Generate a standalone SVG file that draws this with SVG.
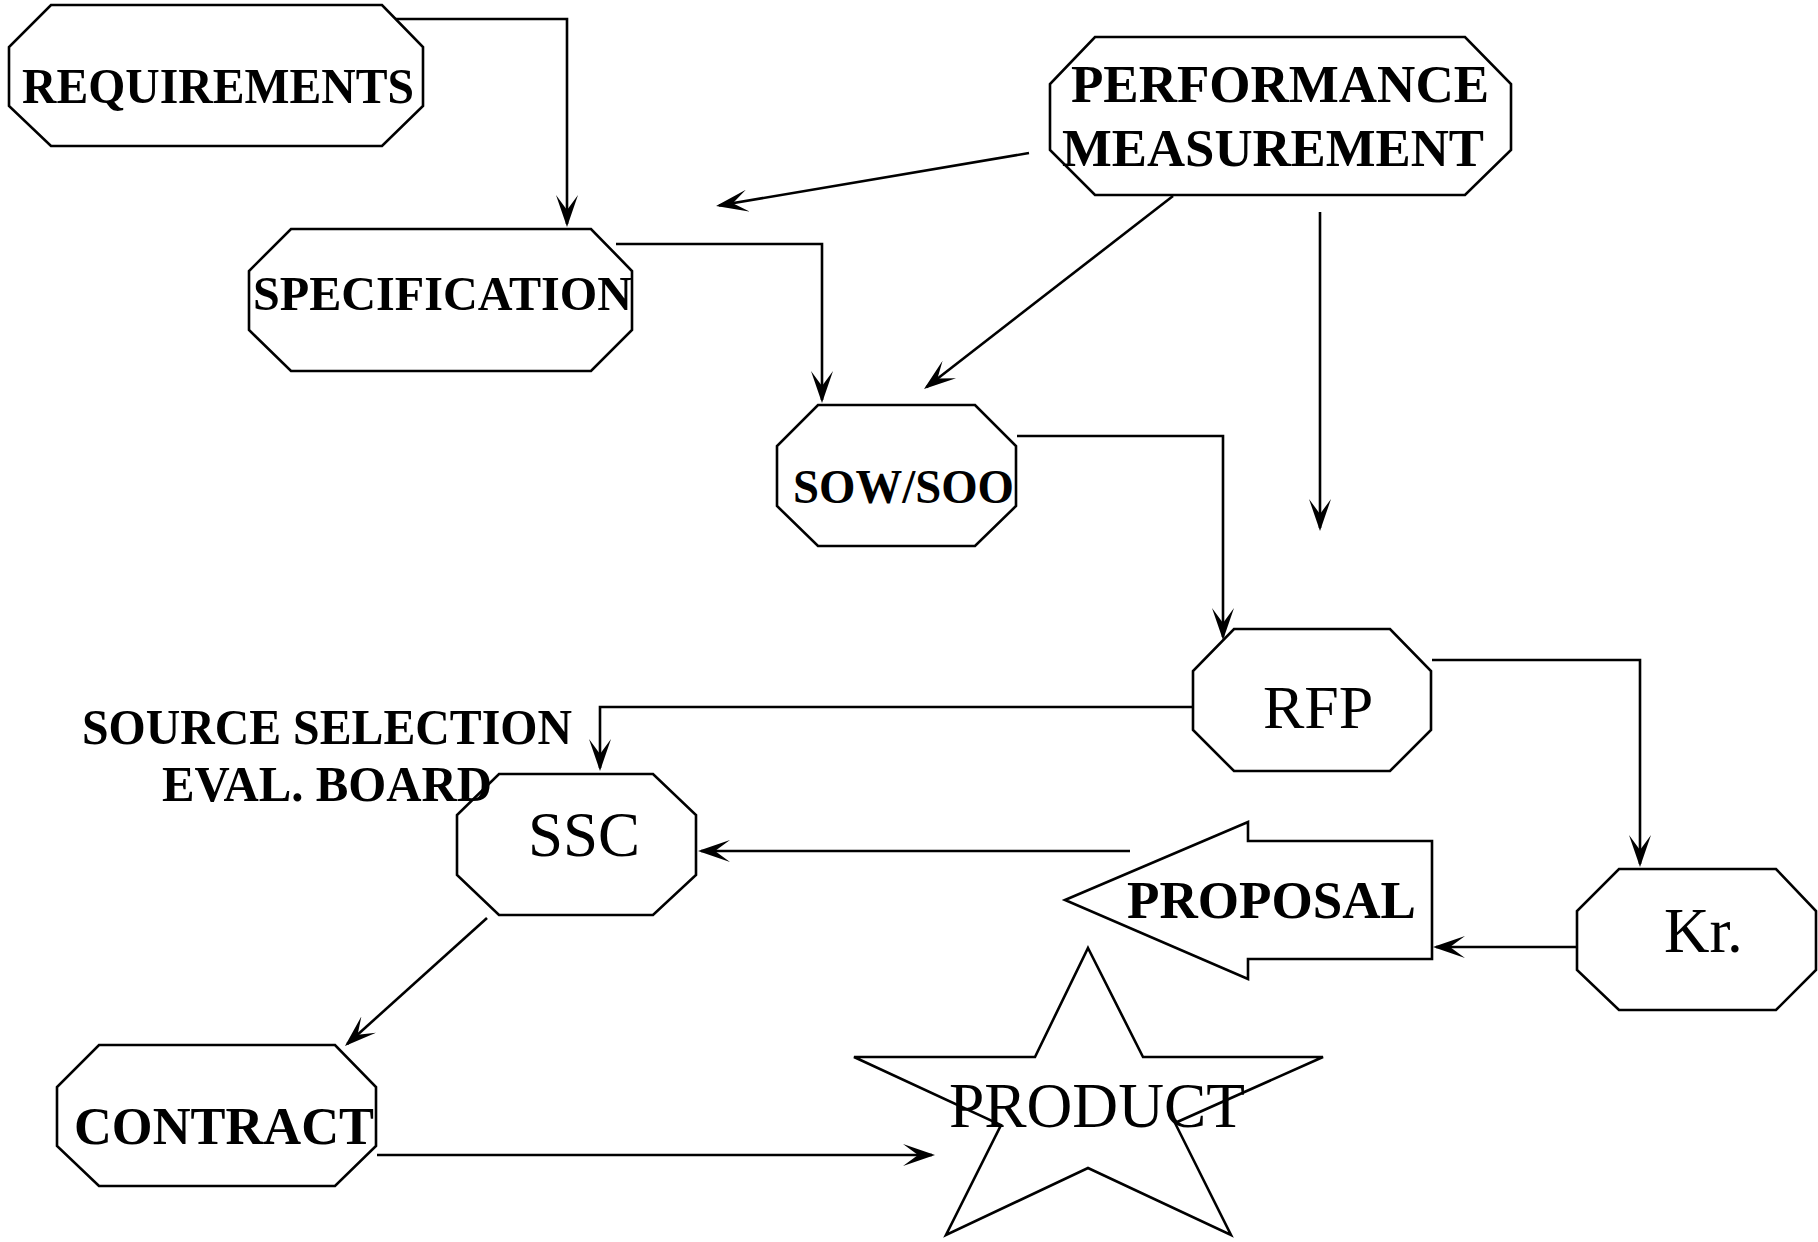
<svg xmlns="http://www.w3.org/2000/svg" width="1818" height="1242" viewBox="0 0 1818 1242">
<style>
.shape{fill:#fff;stroke:#000;stroke-width:2.6;stroke-linejoin:miter}
.b{font-family:"Liberation Serif","Times New Roman",serif;font-weight:bold;fill:#000}
.r{font-family:"Liberation Serif","Times New Roman",serif;font-weight:normal;fill:#000}
.c{fill:none;stroke:#000;stroke-width:2.6}
</style>
<defs>
<marker id="ah" markerUnits="userSpaceOnUse" viewBox="0 0 32 22" markerWidth="32" markerHeight="22" refX="29" refY="11" orient="auto">
<path d="M32,11 L0,0 L15,11 L0,22 Z" fill="#000"/>
</marker>
</defs>
<rect width="1818" height="1242" fill="#fff"/>
<g id="connectors">
<path class="c" d="M393,19 H567 V224" marker-end="url(#ah)"/>
<path class="c" d="M616,244 H822 V400" marker-end="url(#ah)"/>
<path class="c" d="M1029,153 L719,205.5" marker-end="url(#ah)"/>
<path class="c" d="M1173,196 L926.4,387.2" marker-end="url(#ah)"/>
<path class="c" d="M1320,212 V528" marker-end="url(#ah)"/>
<path class="c" d="M1017,436 H1223 V637" marker-end="url(#ah)"/>
<path class="c" d="M1193,707 H600 V768" marker-end="url(#ah)"/>
<path class="c" d="M1432,660 H1640 V864" marker-end="url(#ah)"/>
<path class="c" d="M1130,851 H701" marker-end="url(#ah)"/>
<path class="c" d="M1577,947 H1436" marker-end="url(#ah)"/>
<path class="c" d="M487,918 L347.2,1044" marker-end="url(#ah)"/>
<path class="c" d="M377,1155 H932" marker-end="url(#ah)"/>
</g>
<g id="requirements">
<polygon class="shape" points="51,5 382,5 423,47 423,106 382,146 51,146 9,106 9,47"/>
<text class="b" x="22" y="103" font-size="50" textLength="392" lengthAdjust="spacingAndGlyphs">REQUIREMENTS</text>
</g>
<g id="specification">
<polygon class="shape" points="291,229 591,229 632,271 632,330 591,371 291,371 249,330 249,271"/>
<text class="b" x="253" y="310" font-size="48" textLength="379" lengthAdjust="spacingAndGlyphs">SPECIFICATION</text>
</g>
<g id="performance-measurement">
<polygon class="shape" points="1095,37 1465,37 1511,84 1511,150 1465,195 1095,195 1050,150 1050,84"/>
<text class="b" x="1071" y="102" font-size="52" textLength="418" lengthAdjust="spacingAndGlyphs">PERFORMANCE</text>
<text class="b" x="1062" y="166" font-size="52" textLength="422" lengthAdjust="spacingAndGlyphs">MEASUREMENT</text>
</g>
<g id="sow-soo">
<polygon class="shape" points="818,405 975,405 1016,446 1016,506 975,546 818,546 777,506 777,446"/>
<text class="b" x="793" y="503" font-size="48" textLength="221" lengthAdjust="spacingAndGlyphs">SOW/SOO</text>
</g>
<g id="rfp">
<polygon class="shape" points="1234,629 1390,629 1431,671 1431,730 1390,771 1234,771 1193,730 1193,671"/>
<text class="r" x="1263" y="728" font-size="62">RFP</text>
</g>
<g id="ssc">
<polygon class="shape" points="499,774 653,774 696,815 696,875 653,915 499,915 457,875 457,815"/>
<text class="r" x="528" y="856" font-size="63">SSC</text>
<text class="b" x="82" y="744" font-size="50" textLength="490" lengthAdjust="spacingAndGlyphs">SOURCE SELECTION</text>
<text class="b" x="162" y="801" font-size="50" textLength="330" lengthAdjust="spacingAndGlyphs">EVAL. BOARD</text>
</g>
<g id="kr">
<polygon class="shape" points="1619,869 1776,869 1816,911 1816,970 1776,1010 1619,1010 1577,970 1577,911"/>
<text class="r" x="1664" y="952" font-size="63">Kr.</text>
</g>
<g id="proposal">
<polygon class="shape" points="1065,900 1248,822 1248,841 1432,841 1432,959 1248,959 1248,979"/>
<text class="b" x="1127" y="918" font-size="53" textLength="289" lengthAdjust="spacingAndGlyphs">PROPOSAL</text>
</g>
<g id="contract">
<polygon class="shape" points="99,1045 335,1045 376,1087 376,1146 335,1186 99,1186 57,1146 57,1087"/>
<text class="b" x="74" y="1144" font-size="52" textLength="300" lengthAdjust="spacingAndGlyphs">CONTRACT</text>
</g>
<g id="product">
<polygon class="shape" points="1088,948 1143,1057 1323,1057 1175,1123 1231,1235 1088,1168 946,1235 1001,1125 854,1057 1035,1057"/>
<text class="r" x="949" y="1127" font-size="63" textLength="296" lengthAdjust="spacingAndGlyphs">PRODUCT</text>
</g>
</svg>
